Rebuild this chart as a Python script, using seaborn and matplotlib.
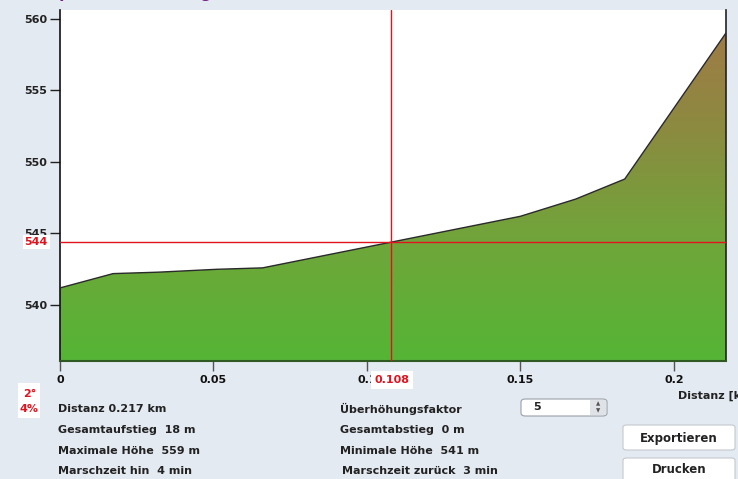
import numpy as np
import pandas as pd
import seaborn as sns
import matplotlib.pyplot as plt
from matplotlib.colors import LinearSegmentedColormap
from matplotlib.patches import FancyBboxPatch, Rectangle

# Höhenprofil (Distanz in km, Höhe in m)
distanz = [0, 0.0173, 0.032, 0.051, 0.066, 0.108, 0.15, 0.168, 0.184, 0.217]
hoehe = [541.2, 542.2, 542.3, 542.5, 542.6, 544.4, 546.2, 547.4, 548.8, 559.0]

x_ticks = [0, 0.05, 0.1, 0.15, 0.2]
x_labels = ['0', '0.05', '0.1', '0.15', '0.2']
y_ticks = [540, 545, 550, 555, 560]

cursor_x = 0.108
cursor_y = 544.4

infos_links = ['Distanz 0.217 km', 'Gesamtaufstieg  18 m', 'Maximale Höhe  559 m', 'Marschzeit hin  4 min']
infos_rechts = ['Überhöhungsfaktor', 'Gesamtabstieg  0 m', 'Minimale Höhe  541 m', 'Marschzeit zurück  3 min']

bg = '#e4eaf2'
W, H = 738, 479

sns.set_theme(style='ticks')
plt.rcParams['font.family'] = ['DejaVu Sans']

df = pd.DataFrame({'distanz': distanz, 'hoehe': hoehe})

fig = plt.figure(figsize=(W / 100, H / 100), dpi=100, facecolor=bg)
ax = fig.add_axes([60 / W, 1 - 361 / H, 666 / W, 351 / H])
ax.set_facecolor('white')

xmin, xmax = 0, 0.217
ymin, ymax = 536.1, 560.6

# Farbverlauf grün -> braun, auf die Fläche unter dem Profil beschnitten
cmap = LinearSegmentedColormap.from_list('hoehe', ['#55b535', '#6fa63a', '#8c8a40', '#a47848'])
grad = np.linspace(0, 1, 256).reshape(-1, 1)
img = ax.imshow(grad, extent=[xmin, xmax, ymin, ymax], origin='lower', aspect='auto',
                cmap=cmap, zorder=1)
poly = ax.fill_between(df['distanz'], df['hoehe'], ymin, color='none', lw=0)
img.set_clip_path(poly.get_paths()[0], transform=ax.transData)

sns.lineplot(data=df, x='distanz', y='hoehe', ax=ax, color='#2a2a2a', lw=1.0, zorder=3)

# Cursor
ax.axvline(cursor_x, color='#e0141e', lw=1, zorder=4)
ax.axhline(cursor_y, color='#e0141e', lw=1, zorder=4)

ax.set_xlim(xmin, xmax)
ax.set_ylim(ymin, ymax)
ax.set_xticks(x_ticks)
ax.set_xticklabels(x_labels)
ax.set_yticks(y_ticks)
ax.set_xlabel('')
ax.set_ylabel('')
ax.tick_params(axis='both', which='major', direction='out', length=7, width=1, colors='#222222',
               labelsize=8, pad=2, bottom=True, left=True, top=False, right=False)
ax.tick_params(axis='x', colors='#555555', labelcolor='#111111', pad=3)
for lab in ax.get_xticklabels() + ax.get_yticklabels():
    lab.set_fontweight('bold')

ax.spines['top'].set_visible(False)
ax.spines['left'].set_color('#111111')
ax.spines['right'].set_visible(True)
ax.spines['right'].set_color('#222222')
ax.spines['bottom'].set_color('#2f5a22')
ax.spines['bottom'].set_linewidth(1.5)
for s in ['left', 'right']:
    ax.spines[s].set_linewidth(1.2)


def px(x, y):
    return x / W, 1 - y / H


# Titel (oben abgeschnitten, nur Unterlängen sichtbar)
fig.text(*px(4, -2), 'Höhenprofil Wanderweg', color='#7a1f8a', fontsize=11, fontweight='bold',
         va='baseline', ha='left')

# Rote Markierungen mit weißem Hintergrund
fig.text(*px(392, 380), '0.108', color='#e0141e', fontsize=8, fontweight='bold', ha='center', va='center',
         bbox=dict(boxstyle='square,pad=0.35', fc='white', ec='none'))
fig.text(*px(48, 242), '544', color='#e0141e', fontsize=8, fontweight='bold', ha='right', va='center',
         bbox=dict(boxstyle='square,pad=0.15', fc='white', ec='none'))
fig.patches.append(Rectangle(px(18, 418), 22 / W, 35 / H, transform=fig.transFigure, fc='white', ec='none'))
fig.text(*px(36, 394), '2°', color='#e0141e', fontsize=8, fontweight='bold', ha='right', va='center')
fig.text(*px(38, 409), '4%', color='#e0141e', fontsize=8, fontweight='bold', ha='right', va='center')

fig.text(*px(678, 396), 'Distanz [km]', color='#222222', fontsize=8, fontweight='bold', ha='left', va='center')

# Kennzahlen
zeilen_y = [409, 430, 451, 471]
for t, y in zip(infos_links, zeilen_y):
    fig.text(*px(58, y), t, color='#222222', fontsize=8, fontweight='bold', ha='left', va='center')
for i, (t, y) in enumerate(zip(infos_rechts, zeilen_y)):
    fig.text(*px(342 if i == 3 else 340, y), t, color='#222222', fontsize=8, fontweight='bold',
             ha='left', va='center')

# Auswahlfeld Überhöhungsfaktor
fig.patches.append(FancyBboxPatch(px(521, 416), 86 / W, 17 / H, boxstyle='round,pad=0,rounding_size=0.006',
                                  transform=fig.transFigure, fc='white', ec='#9aa0a8', lw=0.8))
fig.patches.append(Rectangle(px(590, 415), 16 / W, 15 / H, transform=fig.transFigure,
                             fc='#dfe2e6', ec='none'))
fig.text(*px(533, 407), '5', color='#222222', fontsize=8, fontweight='bold', ha='left', va='center')
fig.text(*px(598, 404), '▲', color='#555555', fontsize=4, ha='center', va='center')
fig.text(*px(598, 411), '▼', color='#555555', fontsize=4, ha='center', va='center')

# Buttons
for label, y0, y1 in [('Exportieren', 425, 450), ('Drucken', 458, 484)]:
    fig.patches.append(FancyBboxPatch(px(623, y1), 112 / W, (y1 - y0) / H,
                                      boxstyle='round,pad=0,rounding_size=0.005',
                                      transform=fig.transFigure, fc='white', ec='#c4c8ce', lw=0.8))
    fig.text(*px(679, (y0 + min(y1, 479)) / 2 + 1), label, color='#222222', fontsize=8.5,
             fontweight='bold', ha='center', va='center')

fig.savefig('out.png', dpi=100, facecolor=bg)
